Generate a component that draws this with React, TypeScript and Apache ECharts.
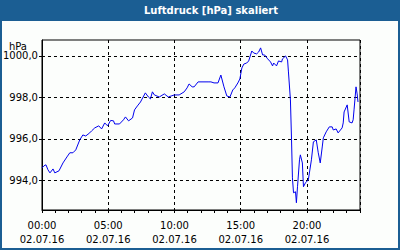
import React, { useEffect, useRef } from "react";
import * as echarts from "echarts";

// time in minutes since 00:00 on 02.07.16
const times: number[] = [
  0, 9, 18, 27, 36, 50, 58, 77, 95, 113, 126, 140, 153, 171, 185, 198, 216, 225, 239, 257,
  270, 284, 297, 311, 324, 329, 351, 369, 378, 392, 410, 419, 432, 446, 468, 482, 491, 500, 509, 531,
  554, 572, 585, 599, 621, 644, 657, 666, 680, 689, 707, 752, 765, 779, 797, 810, 824, 837, 851, 864,
  873, 887, 896, 905, 914, 927, 936, 950, 959, 972, 981, 990, 999, 1008, 1022, 1035, 1044, 1049, 1062, 1071,
  1085, 1089, 1103, 1112, 1116, 1125, 1130, 1134, 1139, 1148, 1152, 1157, 1166, 1170, 1179, 1184, 1193, 1206, 1220, 1229,
  1242, 1251, 1260, 1269, 1274, 1287, 1301, 1314, 1319, 1332, 1341, 1359, 1364, 1368, 1382, 1391, 1404, 1409, 1413, 1418,
  1422, 1427, 1431,
];
// pressure in hPa
const pressure: number[] = [
  994.6, 994.7, 994.75, 994.51, 994.36, 994.55, 994.36, 994.46, 994.84, 995.13, 995.33, 995.33, 995.47, 995.95, 996.19, 996.14, 996.29, 996.39, 996.53, 996.63,
  996.48, 996.77, 996.63, 996.89, 996.87, 996.72, 996.72, 996.92, 997.06, 996.87, 997.01, 997.4, 997.59, 997.78, 998.22, 998.02, 997.93, 998.27, 998.12, 998.02,
  998.17, 998.02, 998.07, 998.12, 998.12, 998.27, 998.46, 998.65, 998.51, 998.51, 998.75, 998.75, 998.75, 998.7, 998.7, 999.08, 998.51, 998.07, 998.02, 998.36,
  998.46, 998.7, 998.89, 999.42, 999.61, 999.66, 999.76, 1000.24, 1000.14, 1000.1, 1000.19, 1000.39, 1000.05, 1000.05, 999.86, 999.71, 999.52, 999.66, 999.52, 999.76,
  999.71, 999.86, 1000.0, 999.81, 999.23, 997.88, 995.95, 994.12, 993.4, 993.45, 992.92, 993.69, 994.99, 995.23, 994.84, 993.69, 993.88, 994.02, 994.99, 995.86,
  995.95, 995.33, 994.84, 995.61, 996.05, 996.34, 996.58, 996.58, 996.43, 996.48, 996.29, 996.53, 996.77, 997.3, 997.64, 996.82, 996.77, 996.92, 997.4, 998.02,
  998.51, 998.17, 997.78,
];

const xTickLabels: string[] = [
  "00:00\n02.07.16",
  "05:00\n02.07.16",
  "10:00\n02.07.16",
  "15:00\n02.07.16",
  "20:00\n02.07.16",
];
const yTickValues: number[] = [994, 996, 998, 1000];

const TITLE = "Luftdruck [hPa] skaliert";
const UNIT = "hPa";

const FONT = "DejaVu Sans";
const FRAME = "#1b5e93";

export default function App() {
  const ref = useRef<HTMLDivElement>(null);
  useEffect(() => {
    if (!ref.current) return;
    const chart = echarts.init(ref.current, undefined, { renderer: "svg" });
    const data = times.map((t, i) => [t, pressure[i]]);
    chart.setOption({
      animation: false,
      backgroundColor: FRAME,
      textStyle: { fontFamily: FONT },
      graphic: [
        {
          type: "rect",
          z: -100,
          shape: { x: 2, y: 21, width: 396, height: 227 },
          style: { fill: "#fcfefc" },
          silent: true,
        },
        {
          type: "text",
          x: 211,
          y: 10,
          style: {
            text: TITLE,
            fill: "#ffffff",
            font: `bold 10px "${FONT}"`,
            textAlign: "center",
            textVerticalAlign: "middle",
          },
        },
        {
          type: "text",
          x: 27,
          y: 46,
          style: {
            text: UNIT,
            fill: "#000000",
            font: `10px "${FONT}"`,
            textAlign: "right",
            textVerticalAlign: "middle",
          },
        },
      ],
      grid: {
        left: 40,
        right: 40,
        top: 40,
        bottom: 40,
        show: true,
        borderColor: "#000",
        borderWidth: 1,
        backgroundColor: "transparent",
      },
      xAxis: [
        {
          type: "value",
          position: "bottom",
          min: 0,
          max: 1440,
          interval: 300,
          axisLine: { show: true, lineStyle: { color: "#000", width: 1 } },
          axisTick: { show: false },
          splitLine: { show: true, lineStyle: { color: "#000", type: [3, 3], width: 1 } },
          axisLabel: {
            color: "#000",
            fontFamily: FONT,
            fontSize: 10,
            lineHeight: 14,
            margin: 8,
            showMaxLabel: false,
            formatter: (v: number) => {
              const i = Math.round(v / 300);
              return v % 300 === 0 && i < xTickLabels.length ? xTickLabels[i] : "";
            },
          },
        },
        {
          type: "value",
          position: "bottom",
          min: 0,
          max: 1440,
          interval: 60,
          axisLine: { show: false },
          axisTick: { show: true, length: 3, lineStyle: { color: "#000", width: 1 } },
          splitLine: { show: false },
          axisLabel: { show: false },
        },
      ],
      yAxis: {
        type: "value",
        min: 992.57,
        max: 1000.77,
        axisLine: { show: true, lineStyle: { color: "#000", width: 1 } },
        axisTick: {
          show: true,
          length: 3,
          customValues: yTickValues,
          lineStyle: { color: "#000", width: 1 },
        },
        splitLine: { show: true, lineStyle: { color: "#000", type: [3, 3], width: 1 } },
        axisLabel: {
          color: "#000",
          fontFamily: FONT,
          fontSize: 10,
          margin: 4,
          customValues: yTickValues,
          formatter: (v: number) => v.toFixed(1).replace(".", ","),
        },
      },
      series: [
        {
          type: "line",
          xAxisIndex: 0,
          data,
          showSymbol: false,
          symbol: "none",
          lineStyle: { color: "#0000ee", width: 1 },
          z: 3,
        },
      ],
    });
    return () => chart.dispose();
  }, []);
  return (
    <div
      ref={ref}
      style={{ position: "fixed", left: 0, top: 0, width: 400, height: 250 }}
    />
  );
}
